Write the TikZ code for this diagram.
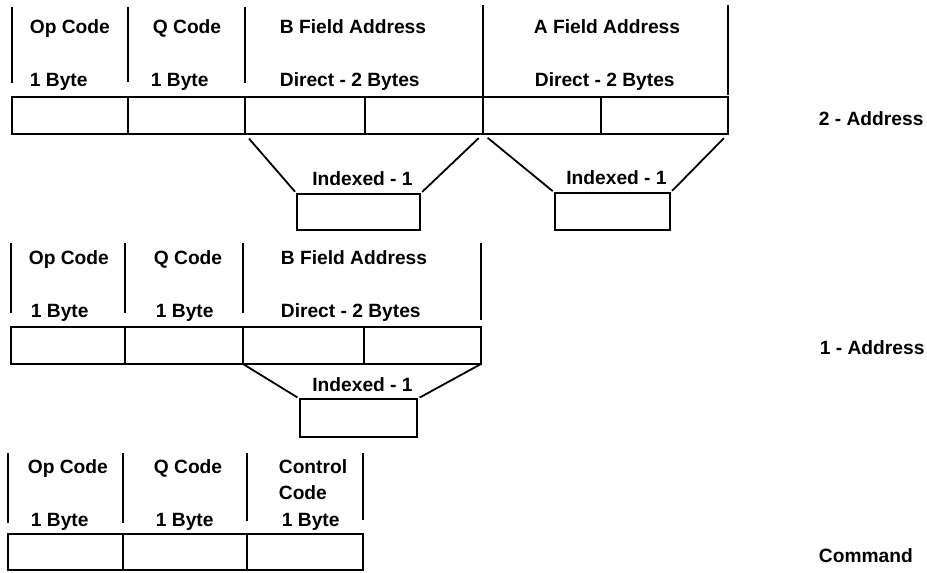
\documentclass[tikz,border=0pt]{standalone}
\usepackage{fontspec}
\setmainfont{Liberation Sans}
\usetikzlibrary{positioning}

\begin{document}
\begin{tikzpicture}[
  x=0.5pt, y=-0.5pt, line width=0.9pt,
  cell/.style={draw, minimum height=18.5pt, inner sep=0pt, outer sep=0pt},
  ibox/.style={draw, minimum height=18.5pt, inner sep=0pt, outer sep=0pt},
  lbl/.style={anchor=base west, inner sep=0pt, font=\fontsize{9.6}{13}\selectfont\bfseries},
  fan/.style={shorten <=3pt, shorten >=1.5pt}
]
  \useasboundingbox (0,0) rectangle (927,573);

  % 2 - Address
  \node[cell, minimum width=58pt] (op2) at (70,115.5) {};
  \node[cell, minimum width=58.5pt, right=0pt of op2] (q2) {};
  \node[cell, minimum width=60pt, right=0pt of q2] (bd2a) {};
  \node[cell, minimum width=59pt, right=0pt of bd2a] (bd2b) {};
  \node[cell, minimum width=59pt, right=0pt of bd2b] (ad2a) {};
  \node[cell, minimum width=63.5pt, right=0pt of ad2a] (ad2b) {};
  \draw (12,7) -- (12,83);
  \draw (128,7) -- (128,82);
  \draw (245,7) -- (245,83);
  \draw (483,5) -- (483,96);
  \draw (728,5) -- (728,95);
  \node[lbl] (op2t) at (29,33) {Op Code};
  \node[lbl] (op2n) at (29,86) {1 Byte};
  \node[lbl] (q2t) at (152,33) {Q Code};
  \node[lbl] (q2n) at (150,86) {1 Byte};
  \node[lbl] (bd2t) at (279,33) {B Field Address};
  \node[lbl] (bd2n) at (279,86) {Direct - 2 Bytes};
  \node[lbl] (ad2t) at (533,33) {A Field Address};
  \node[lbl] (ad2n) at (534,86) {Direct - 2 Bytes};
  \node[ibox, minimum width=61.5pt, minimum height=18pt] (bx2) at (358.5,212) {};
  \node[ibox, minimum width=57.5pt] (ax2) at (612.5,211.5) {};
  \node[lbl, above=3.5pt of bx2, xshift=2pt] (bx2l) {Indexed - 1};
  \node[lbl, above=3.5pt of ax2, xshift=2pt] (ax2l) {Indexed - 1};
  \draw[fan] (bd2a.south west) -- (bx2.north west);
  \draw[fan] (bd2b.south east) -- (bx2.north east);
  \draw[fan] (ad2a.south west) -- (ax2.north west);
  \draw[fan] (ad2b.south east) -- (ax2.north east);
  \node[lbl] (sec2) at (818,125) {2 - Address};

  % 1 - Address
  \node[cell, minimum width=57pt] (op1) at (68,345.5) {};
  \node[cell, minimum width=59pt, right=0pt of op1] (q1) {};
  \node[cell, minimum width=60.5pt, right=0pt of q1] (bd1a) {};
  \node[cell, minimum width=58.5pt, right=0pt of bd1a] (bd1b) {};
  \draw (11,243) -- (11,313);
  \draw (125,243) -- (125,313);
  \draw (243,243) -- (243,313);
  \draw (481,243) -- (481,320);
  \node[lbl] (op1t) at (28,264) {Op Code};
  \node[lbl] (op1n) at (30,317) {1 Byte};
  \node[lbl] (q1t) at (153,264) {Q Code};
  \node[lbl] (q1n) at (155,317) {1 Byte};
  \node[lbl] (bd1t) at (280,264) {B Field Address};
  \node[lbl] (bd1n) at (280,317) {Direct - 2 Bytes};
  \node[ibox, minimum width=58.5pt, minimum height=19pt] (bx1) at (358.5,418) {};
  \node[lbl, above=3pt of bx1, xshift=2pt] (bx1l) {Indexed - 1};
  \draw[fan, shorten <=0pt] (bd1a.south west) -- (bx1.north west);
  \draw[fan, shorten <=0pt] (bd1b.south east) -- (bx1.north east);
  \node[lbl] (sec1) at (819,354) {1 - Address};

  % Command
  \node[cell, minimum width=57.5pt, minimum height=18pt] (op0) at (65.5,552) {};
  \node[cell, minimum width=62pt, minimum height=18pt, right=0pt of op0] (q0) {};
  \node[cell, minimum width=58pt, minimum height=18pt, right=0pt of q0] (cc0) {};
  \draw (8,453) -- (8,523);
  \draw (123,453) -- (123,523);
  \draw (247,453) -- (247,521);
  \draw (363,453) -- (363,520);
  \node[lbl] (op0t) at (27,473) {Op Code};
  \node[lbl] (op0n) at (30,526) {1 Byte};
  \node[lbl] (q0t) at (153,473) {Q Code};
  \node[lbl] (q0n) at (155,526) {1 Byte};
  \node[lbl, align=left, anchor=north west] (cc0t) at (278,459) {Control\\Code};
  \node[lbl] (cc0n) at (281,526) {1 Byte};
  \node[lbl] (sec0) at (818,562) {Command};
\end{tikzpicture}
\end{document}
